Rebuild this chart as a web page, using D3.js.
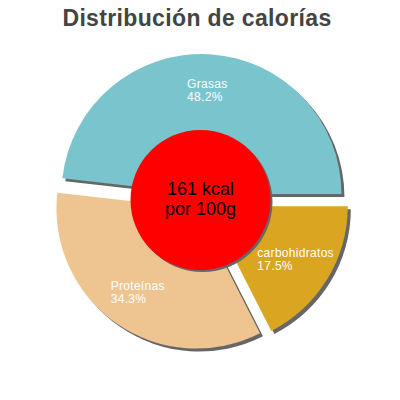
<!DOCTYPE html>
<html>
<head>
<meta charset="utf-8">
<script src="https://cdn.jsdelivr.net/npm/d3@7"></script>
<style>
  body { margin: 0; background: #fff; }
  text { font-family: "Liberation Sans", Arial, sans-serif; }
</style>
</head>
<body>
<div id="chart"></div>
<script>
const categories = ["Grasas", "carbohidratos", "Proteínas"];
const values = [48.2, 17.5, 34.3];
const sliceColors = ["#7ac5cd", "#daa520", "#eec591"];
const kcal = 161;
const centerLines = [`${kcal} kcal`, "por 100g"];
const title = "Distribución de calorías";

const width = 400;
const height = 400;
const cx = 201, cy = 202;
const radius = 140;
const offset = 8; // sliced-out distance

const data = categories.map((c, i) => ({ label: c, value: values[i] }));

const svg = d3.select("#chart").append("svg")
  .attr("width", width)
  .attr("height", height);

svg.append("text")
  .attr("x", 197)
  .attr("y", 25.5)
  .attr("text-anchor", "middle")
  .style("font-size", "23px")
  .style("letter-spacing", "0.35px")
  .style("font-weight", "bold")
  .style("fill", "#444")
  .text(title);

const color = d3.scaleOrdinal().domain(categories).range(sliceColors);

const pie = d3.pie()
  .sort(null)
  .value((d) => d.value)
  .startAngle(-83.5 * Math.PI / 180)
  .endAngle((360 - 83.5) * Math.PI / 180);

const arcs = pie(data);
const arc = d3.arc().innerRadius(0).outerRadius(radius);

const shift = (d) => {
  const mid = (d.startAngle + d.endAngle) / 2;
  return [Math.sin(mid) * offset, -Math.cos(mid) * offset];
};

const g = svg.append("g").attr("transform", `translate(${cx},${cy})`);

// shadows first
g.selectAll("path.shadow")
  .data(arcs)
  .enter()
  .append("path")
  .attr("class", "shadow")
  .attr("d", arc)
  .attr("transform", (d) => {
    const [dx, dy] = shift(d);
    return `translate(${dx + 3},${dy + 3})`;
  })
  .attr("fill", "#666");

g.selectAll("path.slice")
  .data(arcs)
  .enter()
  .append("path")
  .attr("class", "slice")
  .attr("d", arc)
  .attr("transform", (d) => {
    const [dx, dy] = shift(d);
    return `translate(${dx},${dy})`;
  })
  .attr("fill", (d) => color(d.data.label));

// labels inside slices
const labelDist = 103;
const labels = g.selectAll("text.label")
  .data(arcs)
  .enter()
  .append("text")
  .attr("class", "label")
  .style("font-size", "12px")
  .style("letter-spacing", "0.3px")
  .style("fill", "#fff");

labels.append("tspan").attr("class", "l1").text((d) => d.data.label);
labels.append("tspan").attr("class", "l2").text((d) => d.data.value.toFixed(1) + "%");

labels.each(function (d) {
  const t = d3.select(this);
  const w = Math.max(
    t.select(".l1").node().getComputedTextLength(),
    t.select(".l2").node().getComputedTextLength()
  );
  const mid = (d.startAngle + d.endAngle) / 2;
  const [dx, dy] = shift(d);
  const x = dx + Math.sin(mid) * labelDist - w / 2;
  const y = dy - Math.cos(mid) * labelDist;
  t.select(".l1").attr("x", x).attr("y", y - 3.5);
  t.select(".l2").attr("x", x).attr("y", y + 10);
});

// center disc
const innerR = 70;
g.append("circle")
  .attr("cx", 1.5)
  .attr("cy", 0)
  .attr("r", innerR)
  .attr("fill", "#666");
g.append("circle")
  .attr("cx", -0.5)
  .attr("cy", -2)
  .attr("r", innerR)
  .attr("fill", "#ff0000");

g.selectAll("text.center")
  .data(centerLines)
  .enter()
  .append("text")
  .attr("class", "center")
  .attr("x", -0.5)
  .attr("y", (d, i) => -7 + i * 19.5)
  .attr("text-anchor", "middle")
  .style("font-size", "18px")
  .style("fill", "#000")
  .text((d) => d);
</script>
</body>
</html>
